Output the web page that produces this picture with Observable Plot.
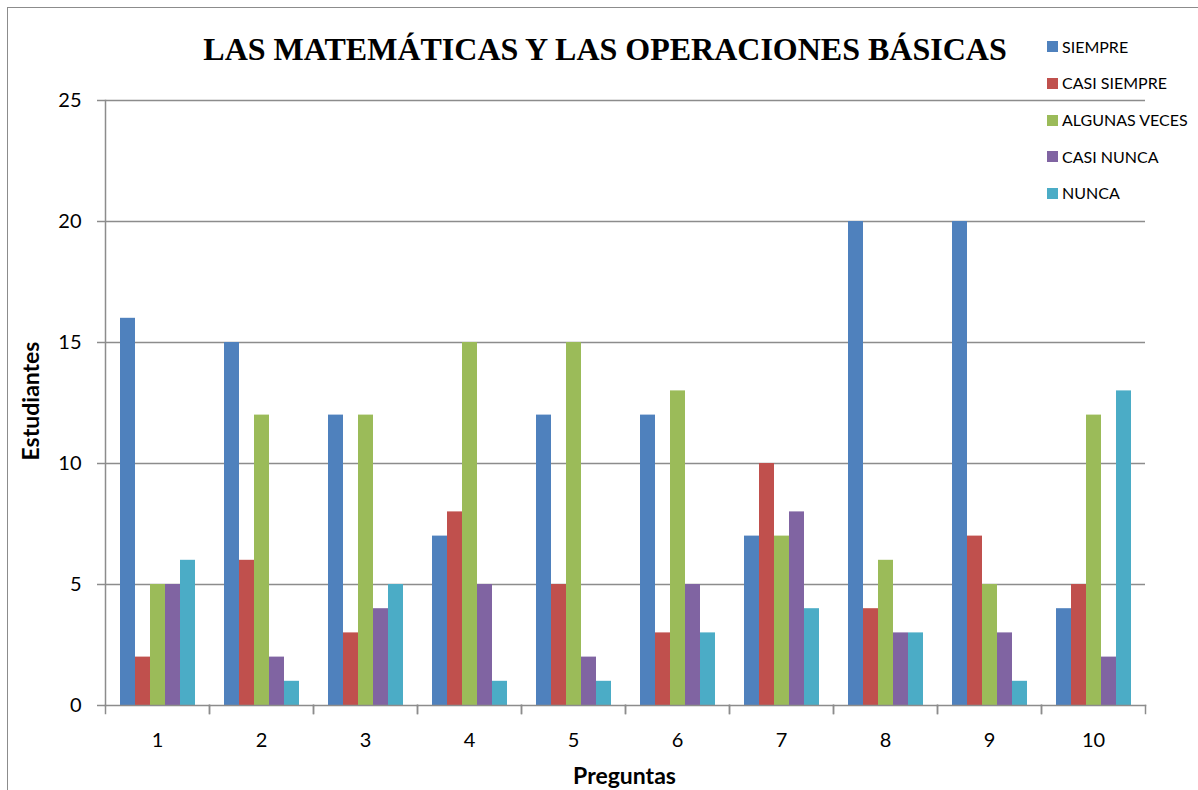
<!DOCTYPE html>
<html>
<head>
<meta charset="utf-8">
<script src="https://cdn.jsdelivr.net/npm/d3@7"></script>
<script src="https://cdn.jsdelivr.net/npm/@observablehq/plot@0.6"></script>
<style>
  html, body { margin: 0; padding: 0; background: #fff; overflow: hidden; }
  #wrap { position: relative; width: 1198px; height: 790px; overflow: hidden; font-family: Lato, "Open Sans", sans-serif; }
  #border { position: absolute; left: 7px; top: 7px; width: 1400px; height: 1000px; border: 1.5px solid #8c8c8c; box-sizing: border-box; }
  #title { position: absolute; left: 0; top: 34px; width: 1210px; text-align: center; font-family: "Liberation Serif", "Times New Roman", serif; font-weight: bold; font-size: 32px; line-height: 30px; color: #000; white-space: nowrap; }
  #chart { position: absolute; left: 0; top: 0; }
  #xlabel { position: absolute; left: 103px; width: 1043px; top: 762px; text-align: center; font-weight: bold; font-size: 23px; line-height: 26px; }
  #ylabel { position: absolute; left: 30px; top: 401px; transform: translate(-50%, -50%) rotate(-90deg); font-weight: bold; font-size: 23px; line-height: 26px; white-space: nowrap; }
  #legend { position: absolute; left: 1047px; top: 0; }
  .item { position: absolute; left: 0; display: flex; align-items: center; white-space: nowrap; font-size: 16px; line-height: 18px; }
  .sw { width: 11px; height: 11px; margin-right: 4px; }
</style>
</head>
<body>
<div id="wrap">
  <div id="border"></div>
  <div id="chart"></div>
  <div id="title"></div>
  <div id="xlabel"></div>
  <div id="ylabel"></div>
  <div id="legend"></div>
</div>
<script>
const titulo = "LAS MATEMÁTICAS Y LAS OPERACIONES BÁSICAS";
const ejeX = "Preguntas";
const ejeY = "Estudiantes";
const preguntas = ["1", "2", "3", "4", "5", "6", "7", "8", "9", "10"];
const categorias = ["SIEMPRE", "CASI SIEMPRE", "ALGUNAS VECES", "CASI NUNCA", "NUNCA"];
const siempre      = [16, 15, 12, 7, 12, 12, 7, 20, 20, 4];
const casiSiempre  = [2, 6, 3, 8, 5, 3, 10, 4, 7, 5];
const algunasVeces = [5, 12, 12, 15, 15, 13, 7, 6, 5, 12];
const casiNunca    = [5, 2, 4, 5, 2, 5, 8, 3, 3, 2];
const nunca        = [6, 1, 5, 1, 1, 3, 4, 3, 1, 13];
const yTicks = [0, 5, 10, 15, 20, 25];
const colores = ["#4F81BD", "#C0504D", "#9BBB59", "#8064A2", "#4BACC6"];

const series = [siempre, casiSiempre, algunasVeces, casiNunca, nunca];
const data = [];
preguntas.forEach((q, i) => {
  categorias.forEach((c, j) => data.push({q, cat: c, v: series[j][i]}));
});

const W = 1198, H = 790, mT = 100, mB = 85, mL = 103, mR = 52;
const plotH = H - mT - mB;
const axisColor = "#8c8c8c";

const chart = Plot.plot({
  width: W, height: H,
  marginTop: mT, marginBottom: mB, marginLeft: mL, marginRight: mR,
  style: {fontFamily: "Lato, 'Open Sans', sans-serif", fontSize: "20px", color: "#000", background: "transparent", overflow: "visible"},
  fx: {domain: preguntas, padding: 0, label: null, axis: null},
  x: {domain: categorias, paddingInner: 0, paddingOuter: 0.8, align: 0.5, axis: null},
  y: {domain: [0, 25], label: null},
  color: {domain: categorias, range: colores},
  marks: [
    Plot.ruleY(yTicks.filter(d => d > 0), {stroke: axisColor, strokeWidth: 1.5}),
    Plot.barY(data, {fx: "q", x: "cat", y: "v", fill: "cat", inset: 0}),
    Plot.frame({anchor: "left", facetAnchor: "left", stroke: axisColor, strokeWidth: 1.5}),
    Plot.frame({anchor: "bottom", stroke: axisColor, strokeWidth: 1.5}),
    Plot.frame({anchor: "left", insetTop: plotH, insetBottom: -8, stroke: axisColor, strokeWidth: 1.5}),
    Plot.frame({anchor: "right", insetTop: plotH, insetBottom: -8, stroke: axisColor, strokeWidth: 1.5}),
    Plot.axisY({ticks: yTicks, tickSize: 8, tickPadding: 16, stroke: axisColor, strokeWidth: 1.5, label: null, tickFormat: d => String(d)}),
    Plot.axisFx({anchor: "bottom", tickSize: 0, tickPadding: 27, label: null})
  ]
});
document.getElementById("chart").appendChild(chart);

document.getElementById("title").textContent = titulo;
document.getElementById("xlabel").textContent = ejeX;
document.getElementById("ylabel").textContent = ejeY;
const legend = document.getElementById("legend");
categorias.forEach((c, i) => {
  const it = document.createElement("div");
  it.className = "item";
  it.style.top = (46.7 + 36.65 * i - 9) + "px";
  const sw = document.createElement("span");
  sw.className = "sw";
  sw.style.background = colores[i];
  const t = document.createElement("span");
  t.textContent = c;
  it.appendChild(sw); it.appendChild(t);
  legend.appendChild(it);
});
</script>
</body>
</html>
